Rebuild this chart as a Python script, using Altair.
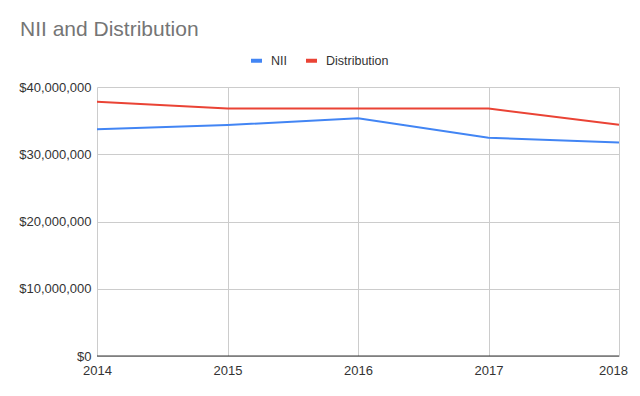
import altair as alt
import pandas as pd

years = [2014, 2015, 2016, 2017, 2018]
nii = [33700000, 34350000, 35350000, 32450000, 31750000]
distribution = [37800000, 36800000, 36800000, 36800000, 34400000]
series_names = ["NII", "Distribution"]
colors = ["#4285F4", "#EA4335"]

df = pd.concat([
    pd.DataFrame({"Year": years, "Value": nii, "Series": "NII"}),
    pd.DataFrame({"Year": years, "Value": distribution, "Series": "Distribution"}),
])

font = "Liberation Sans"

chart = alt.Chart(df).mark_line(strokeWidth=2).encode(
    x=alt.X("Year:Q",
            scale=alt.Scale(domain=[2014, 2018], nice=False, zero=False),
            axis=alt.Axis(values=years, format="d", title=None, labelFont=font,
                          labelFontSize=13, labelColor="#333", grid=True,
                          gridColor="#cccccc", domain=False, ticks=False,
                          labelPadding=8, labelFlush=False,
                          labelOffset={"condition": {"test": "datum.value == 2018", "value": -6},
                                       "value": 0})),
    y=alt.Y("Value:Q",
            scale=alt.Scale(domain=[0, 40000000], nice=False),
            axis=alt.Axis(values=[0, 10000000, 20000000, 30000000, 40000000],
                          format="$,.0f", title=None, labelFont=font,
                          labelFontSize=13, labelColor="#333", gridColor="#cccccc",
                          domain=False, ticks=False, labelPadding=6)),
    color=alt.Color("Series:N",
                    scale=alt.Scale(domain=series_names, range=colors),
                    sort=series_names,
                    legend=alt.Legend(title=None, orient="none", direction="horizontal",
                                      legendX=152, legendY=-34, symbolType="stroke",
                                      symbolStrokeWidth=4, symbolSize=120,
                                      labelFont=font, labelFontSize=12.5,
                                      labelColor="#333", columnPadding=11,
                                      labelOffset=7)),
)

zero_rule = alt.Chart(pd.DataFrame({"v": [0]})).mark_rule(color="#333333", strokeWidth=1).encode(
    y="v:Q"
)

final = (alt.layer(chart, zero_rule)
         .properties(width=522, height=269,
                     title=alt.TitleParams("NII and Distribution", anchor="start", frame="group",
                                           dx=-77, font=font, fontSize=21, fontWeight="normal",
                                           color="#757575", offset=13),
                     autosize=alt.AutoSizeParams(type="none"),
                     padding={"left": 89, "top": 79, "right": 13, "bottom": 32})
         .configure_view(stroke=None))

final.save("out.html", embed_options={"renderer": "svg", "actions": False})
